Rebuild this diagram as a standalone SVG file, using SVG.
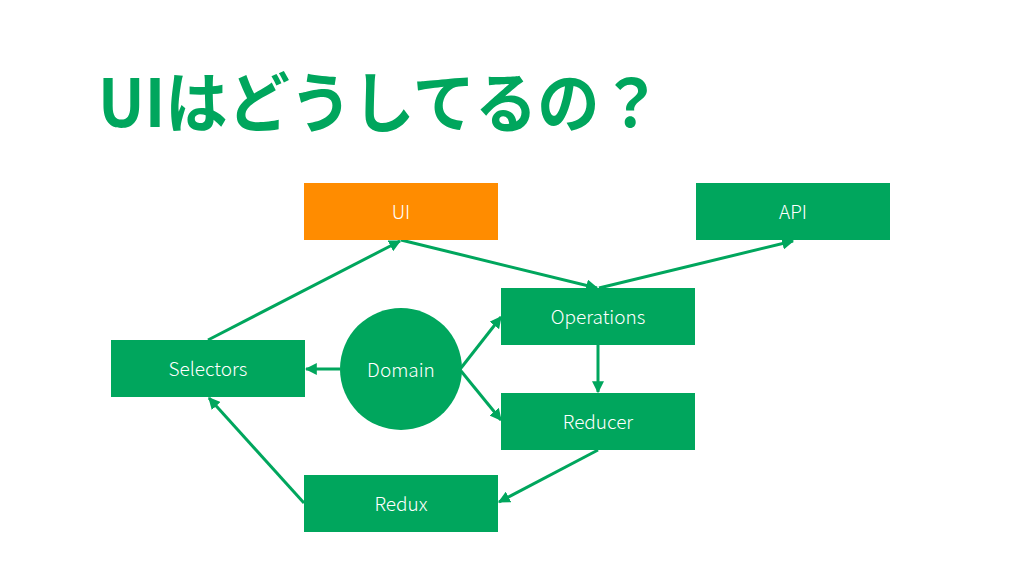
<svg xmlns="http://www.w3.org/2000/svg" width="1024" height="576" viewBox="0 0 1024 576">
<style>
.box{fill:#00a65d}
.lbl{fill:#ffffff;font-family:"Noto Sans CJK JP","Noto Sans",sans-serif;font-size:19px;font-weight:300;text-anchor:middle;dominant-baseline:central}
.title{fill:#00a65d;font-family:"Noto Sans CJK JP",sans-serif;font-size:66px;font-weight:bold}
.conn{stroke:#00a65d;stroke-width:3;fill:none;marker-end:url(#ah)}
</style>
<defs>
<marker id="ah" viewBox="0 0 10 10" refX="9" refY="5" markerWidth="4" markerHeight="4" orient="auto" markerUnits="strokeWidth">
<path d="M0,0 L10,5 L0,10 Z" fill="#00a65d"/>
</marker>
</defs>
<rect width="1024" height="576" fill="#ffffff"/>
<text class="title" x="98" y="127" textLength="564" lengthAdjust="spacingAndGlyphs">UIはどうしてるの？</text>
<g id="connectors">
<line class="conn" x1="208" y1="340" x2="400" y2="241"/>
<line class="conn" x1="401" y1="240" x2="597" y2="288"/>
<line class="conn" x1="599" y1="288" x2="793" y2="241"/>
<line class="conn" x1="340" y1="369" x2="306" y2="369"/>
<line class="conn" x1="461" y1="368" x2="501" y2="317"/>
<line class="conn" x1="461" y1="371" x2="501" y2="420"/>
<line class="conn" x1="598" y1="345" x2="598" y2="392"/>
<line class="conn" x1="598" y1="450" x2="499" y2="502"/>
<line class="conn" x1="304" y1="503" x2="209" y2="398"/>
</g>
<g id="ui"><rect x="304" y="183" width="194" height="57" fill="#ff8c00"/><text class="lbl" x="401" y="210">UI</text></g>
<g id="api"><rect class="box" x="696" y="183" width="194" height="57"/><text class="lbl" x="793" y="210">API</text></g>
<g id="operations"><rect class="box" x="501" y="288" width="194" height="57"/><text class="lbl" x="598" y="315">Operations</text></g>
<g id="reducer"><rect class="box" x="501" y="393" width="194" height="57"/><text class="lbl" x="598" y="420">Reducer</text></g>
<g id="selectors"><rect class="box" x="111" y="340" width="194" height="57"/><text class="lbl" x="208" y="367">Selectors</text></g>
<g id="redux"><rect class="box" x="304" y="475" width="194" height="57"/><text class="lbl" x="401" y="502">Redux</text></g>
<g id="domain"><circle class="box" cx="401" cy="369" r="61"/><text class="lbl" x="401" y="368">Domain</text></g>
</svg>
